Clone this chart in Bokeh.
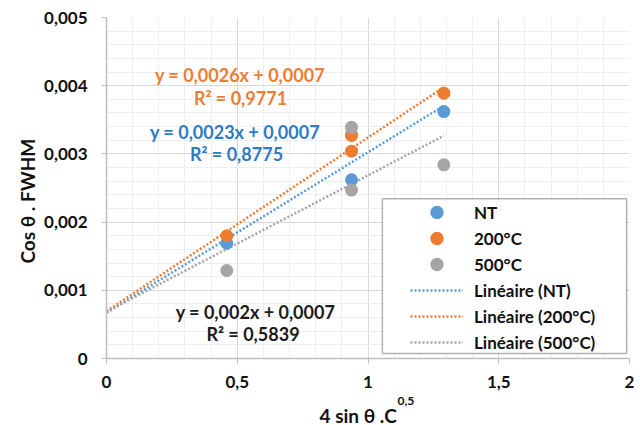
from bokeh.plotting import figure
from bokeh.models import (Range1d, FixedTicker, Legend, LegendItem, Label, BoxAnnotation, Title)
from bokeh.embed import file_html
from bokeh.resources import INLINE
import numpy as np

# ---- data ----
x_nt = [0.46, 0.937, 0.937, 1.29]
y_nt = [0.00169, 0.00262, 0.00328, 0.00362]
x_200 = [0.46, 0.937, 0.937, 1.29]
y_200 = [0.00180, 0.00304, 0.00327, 0.00389]
x_500 = [0.46, 0.937, 0.937, 1.29]
y_500 = [0.00129, 0.00247, 0.00339, 0.00284]

series_names = ["NT", "200°C", "500°C"]
trend_names = ["Linéaire (NT)", "Linéaire (200°C)", "Linéaire (500°C)"]
equations = ["y = 0,0023x + 0,0007", "y = 0,0026x + 0,0007", "y = 0,002x + 0,0007"]
r2_texts = ["R² = 0,8775", "R² = 0,9771", "R² = 0,5839"]

x_ticks = [0, 0.5, 1, 1.5, 2]
x_tick_labels = ["0", "0,5", "1", "1,5", "2"]
x_minor = [0.1, 0.2, 0.3, 0.4, 0.6, 0.7, 0.8, 0.9, 1.1, 1.2, 1.3, 1.4, 1.6, 1.7, 1.8, 1.9]
y_ticks = [0, 0.001, 0.002, 0.003, 0.004, 0.005]
y_tick_labels = ["0", "0,001", "0,002", "0,003", "0,004", "0,005"]
y_minor = [0.0002, 0.0004, 0.0006, 0.0008, 0.0012, 0.0014, 0.0016, 0.0018,
           0.0022, 0.0024, 0.0026, 0.0028, 0.0032, 0.0034, 0.0036, 0.0038,
           0.0042, 0.0044, 0.0046, 0.0048]

colors = ["#5B9BD5", "#ED7D31", "#A5A5A5"]
eq_colors = ["#2E7BC4", "#ED7D31", "#1a1a1a"]
FONT = "Lato"
INK = "#111111"

p = figure(width=640, height=425, output_backend="svg", toolbar_location=None,
           x_range=Range1d(0, 2), y_range=Range1d(0, 0.005),
           min_border_left=106, min_border_right=11, min_border_top=17,
           min_border_bottom=67)
p.outline_line_color = None

for ax, ticks, minor, labels in ((p.xaxis[0], x_ticks, x_minor, x_tick_labels),
                                  (p.yaxis[0], y_ticks, y_minor, y_tick_labels)):
    ax.ticker = FixedTicker(ticks=ticks, minor_ticks=minor)
    ax.major_label_overrides = {t: l for t, l in zip(ticks, labels)}
    ax.major_label_text_font = FONT
    ax.major_label_text_font_style = "bold"
    ax.major_label_text_font_size = "17px"
    ax.major_label_text_color = INK
    ax.axis_line_color = "#BFBFBF"
    ax.axis_line_width = 1.5
    ax.major_tick_line_color = "#BFBFBF"
    ax.major_tick_out = 5
    ax.major_tick_in = 0
    ax.minor_tick_line_color = None

p.xaxis.major_label_standoff = 12
p.yaxis.major_label_standoff = 14

for g in (p.xgrid[0], p.ygrid[0]):
    g.grid_line_color = "#D9D9D9"
    g.grid_line_width = 1
    g.minor_grid_line_color = "#EEEEEE"
    g.minor_grid_line_width = 1

# axis titles as side-panel titles (allow offsets)
p.add_layout(Title(text="Cos θ . FWHM", align="left", offset=95, standoff=6,
                   text_font=FONT, text_font_style="bold", text_font_size="19px",
                   text_color=INK), "left")
p.add_layout(Title(text="0,5", align="left", offset=291, standoff=10, vertical_align="middle",
                   text_font=FONT, text_font_style="bold", text_font_size="12px",
                   text_color=INK), "below")
p.add_layout(Title(text="4 sin θ .C", align="left", offset=213, standoff=-18,
                   text_font=FONT, text_font_style="bold", text_font_size="19px",
                   text_color=INK), "below")

xs = [x_nt, x_200, x_500]
ys = [y_nt, y_200, y_500]

scatter_r = []
line_r = []
for xv, yv, c in zip(xs, ys, colors):
    slope, inter = np.polyfit(xv, yv, 1)
    xl = np.array([0.0, max(xv)])
    line_r.append(p.line(xl, slope * xl + inter, line_color=c, line_width=2.5,
                         line_dash="2 2"))
for xv, yv, c in zip(xs, ys, colors):
    scatter_r.append(p.scatter(xv, yv, size=10, fill_color=c, line_color=c, line_width=3))

# equation labels
eq_pos = [(0.4914, 0.003326, 0.4971, 0.003003),
          (0.5105, 0.00416, 0.5124, 0.003824),
          (0.5698, 0.000681, 0.5602, 0.000366)]
for (ex, ey, rx, ry), eq, r2, c in zip(eq_pos, equations, r2_texts, eq_colors):
    for tx, ty, t in ((ex, ey, eq), (rx, ry, r2)):
        p.add_layout(Label(x=tx, y=ty, text=t, text_align="center", text_baseline="middle",
                           text_font=FONT, text_font_style="bold", text_font_size="18px",
                           text_color=c))

# legend box
p.add_layout(BoxAnnotation(left=1.055, right=1.989, bottom=0.0000732, top=0.002344,
                           fill_color="white", fill_alpha=1.0, line_color="black",
                           line_width=1.5))
items = [LegendItem(label=n, renderers=[r]) for n, r in zip(series_names, scatter_r)]
items += [LegendItem(label=n, renderers=[r]) for n, r in zip(trend_names, line_r)]
legend = Legend(items=items, location=(304, 3), padding=0, margin=0,
                border_line_color=None, background_fill_alpha=0,
                glyph_width=53, glyph_height=26, label_height=20, spacing=0,
                label_standoff=11, label_text_font=FONT, label_text_font_style="bold",
                label_text_font_size="17px", label_text_color=INK)
p.add_layout(legend, "center")

open("out.html", "w").write(file_html(p, INLINE))
